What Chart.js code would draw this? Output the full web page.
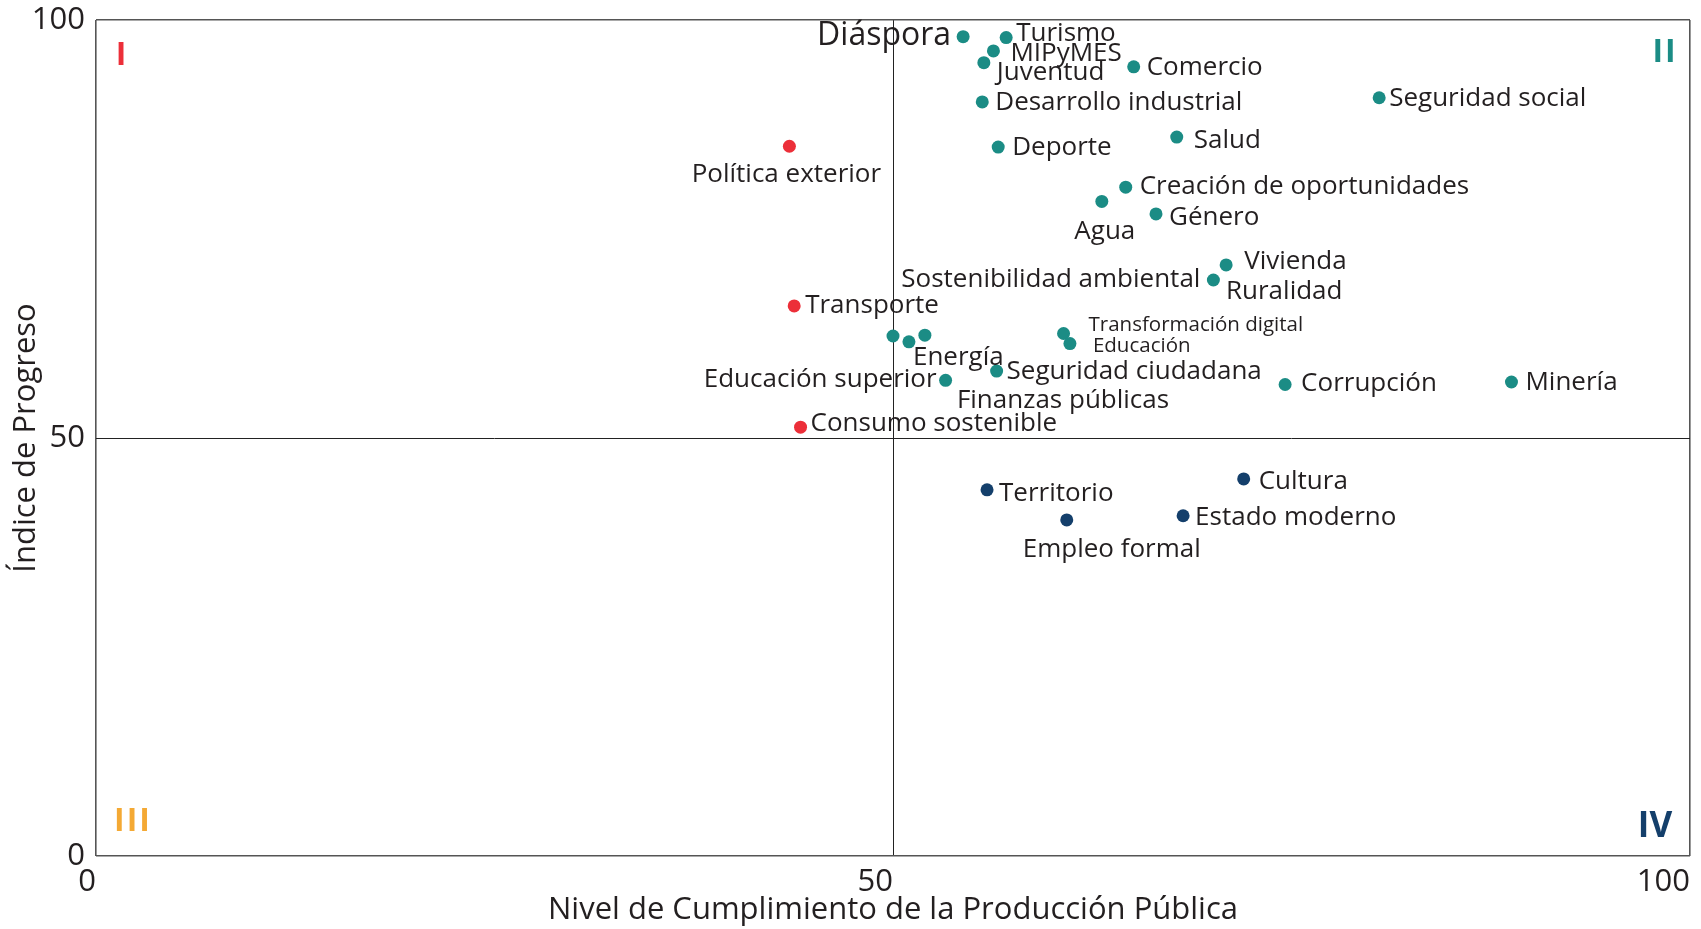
<!DOCTYPE html>
<html>
<head>
<meta charset="utf-8">
<script src="https://cdn.jsdelivr.net/npm/chart.js@4"></script>
<style>
  html, body { margin: 0; padding: 0; background: #ffffff; }
  #wrap { width: 1701px; height: 929px; }
</style>
</head>
<body>
<div id="wrap"><canvas id="chart" width="1701" height="929"></canvas></div>
<script>
// Datos
const temas = ['Diáspora', 'Turismo', 'MIPyMES', 'Juventud', 'Comercio', 'Desarrollo industrial',
  'Seguridad social', 'Salud', 'Deporte', 'Política exterior', 'Creación de oportunidades', 'Agua',
  'Género', 'Vivienda', 'Sostenibilidad ambiental', 'Ruralidad', 'Transporte', 'Energía',
  'Finanzas públicas', 'Transformación digital', 'Educación', 'Educación superior',
  'Seguridad ciudadana', 'Corrupción', 'Minería', 'Consumo sostenible', 'Territorio', 'Cultura',
  'Estado moderno', 'Empleo formal'];
const cumplimiento = [54.4, 57.1, 56.3, 55.7, 65.1, 55.6, 80.5, 67.8, 56.6, 43.5, 64.6, 63.1,
  66.5, 70.9, 70.1, 50.0, 43.8, 51.0, 52.0, 60.7, 61.1, 53.3, 56.5, 74.6, 88.8, 44.2, 55.9, 72.0,
  68.2, 60.9];
const progreso = [98.0, 97.9, 96.3, 94.9, 94.4, 90.2, 90.7, 86.0, 84.8, 84.9, 80.0, 78.3,
  76.8, 70.7, 68.9, 62.2, 65.8, 61.5, 62.3, 62.5, 61.3, 56.9, 58.0, 56.4, 56.7, 51.3, 43.8, 45.1,
  40.7, 40.2];
const cuadrante = ['II', 'II', 'II', 'II', 'II', 'II', 'II', 'II', 'II', 'I', 'II', 'II',
  'II', 'II', 'II', 'II', 'I', 'II', 'II', 'II', 'II', 'II', 'II', 'II', 'II', 'I', 'IV', 'IV',
  'IV', 'IV'];
const xTicks = [0, 50, 100];
const yTicks = [0, 50, 100];
const xTitle = 'Nivel de Cumplimiento de la Producción Pública';
const yTitle = 'Índice de Progreso';
const cuadrantes = ['I', 'II', 'III', 'IV'];

// estilo
const colores = { I: '#ec2f39', II: '#1b8c85', III: '#f4a934', IV: '#143f6b' };
const textColor = '#231f20';
const FONT = '"Open Sans", "Noto Sans", sans-serif';

// ubicación de cada etiqueta respecto a su punto: [dx, dy(base), alineación, tamaño]
const etiquetas = {
  'Diáspora': [-12, 8, 'right', 32],
  'Turismo': [10, 3, 'left', 26],
  'MIPyMES': [17, 10, 'left', 26],
  'Juventud': [13, 17, 'left', 26],
  'Comercio': [13, 8, 'left', 26],
  'Desarrollo industrial': [13, 8, 'left', 26],
  'Seguridad social': [10, 8, 'left', 26],
  'Salud': [17, 11, 'left', 26],
  'Deporte': [14, 8, 'left', 26],
  'Política exterior': [-3, 36, 'center', 26],
  'Creación de oportunidades': [14, 7, 'left', 26],
  'Agua': [3, 38, 'center', 26],
  'Género': [13, 11, 'left', 26],
  'Vivienda': [18, 4, 'left', 26],
  'Sostenibilidad ambiental': [-13, 7, 'right', 26],
  'Ruralidad': [333, -37, 'left', 26],
  'Transporte': [11, 7, 'left', 26],
  'Energía': [4, 23, 'left', 26],
  'Finanzas públicas': [32, 73, 'left', 26],
  'Transformación digital': [25, -3, 'left', 20.5],
  'Educación': [23, 8, 'left', 20.5],
  'Educación superior': [-9, 7, 'right', 26],
  'Seguridad ciudadana': [10, 8, 'left', 26],
  'Corrupción': [16, 7, 'left', 26],
  'Minería': [14, 8, 'left', 26],
  'Consumo sostenible': [10, 4, 'left', 26],
  'Territorio': [12, 11, 'left', 26],
  'Cultura': [15, 10, 'left', 26],
  'Estado moderno': [12, 9, 'left', 26],
  'Empleo formal': [45, 37, 'center', 26]
};

const pointLabels = {
  id: 'pointLabels',
  afterDatasetsDraw(chart) {
    const ctx = chart.ctx;
    const meta = chart.getDatasetMeta(0);
    ctx.save();
    ctx.fillStyle = textColor;
    ctx.textBaseline = 'alphabetic';
    meta.data.forEach((pt, i) => {
      const [dx, dy, align, size] = etiquetas[temas[i]];
      ctx.font = size + 'px ' + FONT;
      ctx.textAlign = align;
      ctx.fillText(temas[i], pt.x + dx, pt.y + dy);
    });
    ctx.restore();
  }
};

const quadrantMarks = {
  id: 'quadrantMarks',
  afterDraw(chart) {
    const { ctx, chartArea: a } = chart;
    const pos = {
      I: [a.left + 26, a.top + 45, 32],
      II: [a.right - 25, a.top + 42, 32],
      III: [a.left + 37, a.bottom - 25, 32],
      IV: [a.right - 35, a.bottom - 19, 35]
    };
    ctx.save();
    ctx.textAlign = 'center';
    ctx.textBaseline = 'alphabetic';
    cuadrantes.forEach(q => {
      const [x, y, size] = pos[q];
      ctx.font = 'bold ' + size + 'px ' + FONT;
      ctx.letterSpacing = q === 'IV' ? '0px' : '2px';
      ctx.fillStyle = colores[q];
      ctx.fillText(q, x, y);
    });
    ctx.restore();
  }
};

const gridStyle = {
  drawTicks: false,
  color: c => (c.tick && c.tick.value === 50) ? '#222222' : '#555555',
  lineWidth: c => (c.tick && c.tick.value === 50) ? 1 : 1.6
};

new Chart(document.getElementById('chart').getContext('2d'), {
  type: 'scatter',
  data: {
    datasets: [{
      data: cumplimiento.map((x, i) => ({ x: x, y: progreso[i] })),
      pointBackgroundColor: cuadrante.map(q => colores[q]),
      pointBorderWidth: 0,
      pointRadius: 6.5,
      pointHoverRadius: 6.5
    }]
  },
  options: {
    responsive: false,
    animation: false,
    events: [],
    layout: { padding: { top: 20, right: 11, left: 0, bottom: 0 } },
    plugins: { legend: { display: false }, tooltip: { enabled: false } },
    scales: {
      x: {
        type: 'linear', min: 0, max: 100,
        afterBuildTicks: s => { s.ticks = xTicks.map(v => ({ value: v })); },
        afterFit: s => { s.height = 73; s.paddingLeft = 0; s.paddingRight = 0; },
        border: { display: false },
        grid: gridStyle,
        ticks: { align: 'end', padding: 8, color: textColor, font: { family: FONT, size: 31 } },
        title: { display: true, text: xTitle, color: textColor, padding: { top: 0, bottom: 0 },
          font: { family: FONT, size: 31 } }
      },
      y: {
        type: 'linear', min: 0, max: 100,
        afterBuildTicks: s => { s.ticks = yTicks.map(v => ({ value: v })); },
        afterFit: s => { s.width = 96; s.paddingTop = 0; s.paddingBottom = 0; },
        border: { display: false },
        grid: gridStyle,
        ticks: { padding: 11, color: textColor, font: { family: FONT, size: 31 } },
        title: { display: true, text: yTitle, color: textColor, padding: { top: 8, bottom: 0 },
          font: { family: FONT, size: 31 } }
      }
    }
  },
  plugins: [pointLabels, quadrantMarks]
});
</script>
</body>
</html>
